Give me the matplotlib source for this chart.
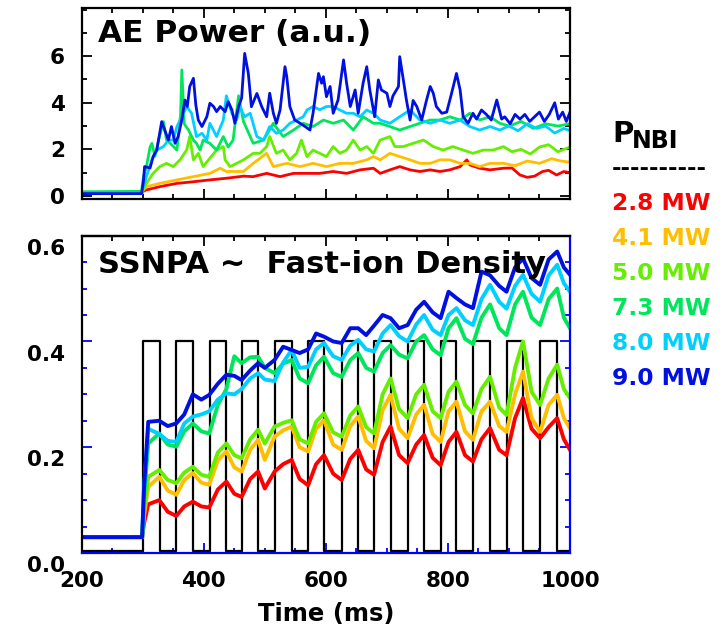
import numpy as np
import matplotlib
matplotlib.use('Agg')
import matplotlib.pyplot as plt
import matplotlib.transforms as mtransforms
from matplotlib.ticker import MultipleLocator

plt.rcParams['font.family'] = 'DejaVu Sans'
plt.rcParams['font.weight'] = 'bold'

power_labels = ['2.8 MW', '4.1 MW', '5.0 MW', '7.3 MW', '8.0 MW', '9.0 MW']
colors = ['#ff0000', '#ffbf00', '#66ee00', '#00e65c', '#00d0ff', '#0010e0']

# AE power (a.u.)
ae_red_t = [200, 298, 301, 306, 328, 356, 383, 410, 437, 465, 481, 503, 525, 547, 569, 590, 612, 634,
            656, 678, 689, 705, 721, 738, 754, 771, 787, 803, 820, 831, 836, 852, 869, 891, 905, 918,
            930, 942, 955, 965, 978, 990, 1000]
ae_red = [0.1, 0.1, 0.2, 0.26, 0.4, 0.54, 0.61, 0.69, 0.76, 0.85, 0.83, 0.97, 0.83, 0.97, 0.97, 0.97,
          1.05, 0.97, 1.12, 1.19, 0.97, 1.12, 1.26, 1.12, 1.05, 1.12, 1.05, 1.12, 1.26, 1.55, 1.33, 1.19,
          1.12, 1.19, 1.2, 0.9, 0.8, 0.85, 1.05, 1.1, 0.9, 1.05, 1.0]

ae_orange_t = [200, 298, 301, 306, 328, 356, 383, 410, 427, 437, 465, 481, 503, 514, 536, 558, 579, 601,
               623, 645, 667, 678, 689, 705, 721, 738, 754, 771, 787, 803, 820, 836, 852, 869, 891, 910,
               930, 950, 970, 985, 1000]
ae_orange = [0.12, 0.12, 0.25, 0.4, 0.54, 0.69, 0.83, 0.97, 1.19, 1.05, 1.05, 1.4, 1.83, 1.26, 1.4, 1.26,
             1.4, 1.26, 1.4, 1.4, 1.55, 1.69, 1.55, 1.83, 1.69, 1.55, 1.4, 1.4, 1.55, 1.55, 1.4, 1.4, 1.26,
             1.4, 1.4, 1.3, 1.5, 1.4, 1.6, 1.5, 1.45]

ae_lime_t = [200, 298, 301, 306, 317, 328, 339, 350, 361, 372, 377, 383, 391, 399, 410, 421, 432, 435,
             443, 454, 465, 481, 492, 503, 508, 519, 530, 541, 552, 560, 569, 579, 590, 601, 612, 623,
             634, 645, 656, 667, 678, 689, 705, 713, 727, 743, 760, 776, 792, 808, 825, 841, 858, 874,
             891, 905, 920, 935, 950, 965, 980, 1000]
ae_lime = [0.15, 0.15, 0.3, 0.54, 0.97, 1.26, 1.4, 1.26, 1.55, 1.97, 2.55, 1.55, 1.83, 1.26, 1.62, 1.97,
           2.12, 1.55, 1.26, 1.4, 1.55, 1.83, 1.83, 2.12, 2.55, 1.83, 1.97, 1.55, 1.83, 2.4, 1.69, 1.97,
           1.83, 1.69, 2.12, 1.83, 1.97, 2.4, 1.97, 2.12, 1.83, 2.4, 2.55, 2.12, 2.12, 2.26, 2.4, 2.12,
           1.97, 2.12, 1.97, 1.83, 1.97, 1.97, 2.12, 1.9, 2.0, 1.8, 2.1, 2.2, 1.9, 2.1]

ae_green_t = [200, 298, 301, 306, 312, 315, 320, 326, 334, 339, 345, 356, 362, 364, 368, 375, 383, 388,
              394, 399, 410, 421, 432, 440, 448, 457, 465, 481, 498, 514, 530, 547, 563, 579, 596, 612,
              629, 645, 661, 678, 689, 705, 721, 738, 754, 771, 787, 803, 820, 836, 852, 869, 885, 900,
              920, 940, 960, 980, 1000]
ae_green = [0.18, 0.2, 0.8, 1.26, 2.1, 2.26, 1.7, 2.4, 3.19, 2.4, 2.26, 1.97, 3.5, 5.41, 3.1, 2.83, 2.4,
            2.26, 1.97, 2.4, 2.26, 1.97, 2.55, 2.1, 2.4, 4.3, 3.2, 2.26, 2.4, 3.12, 2.55, 2.83, 3.12, 2.98,
            3.26, 3.12, 3.26, 2.83, 3.4, 3.12, 3.12, 2.98, 2.83, 2.98, 3.12, 3.26, 3.26, 3.4, 3.26, 3.55,
            3.26, 3.4, 3.12, 3.0, 3.2, 2.9, 3.1, 3.0, 3.1]

ae_cyan_t = [200, 298, 301, 306, 315, 323, 334, 342, 350, 356, 364, 372, 380, 388, 397, 405, 410, 421,
             432, 437, 446, 454, 459, 467, 476, 487, 498, 508, 519, 530, 541, 552, 563, 569, 579, 590,
             601, 612, 623, 634, 645, 656, 667, 678, 689, 705, 721, 738, 754, 771, 787, 803, 820, 836,
             852, 869, 885, 900, 915, 930, 945, 960, 975, 990, 1000]
ae_cyan = [0.1, 0.1, 0.4, 0.83, 1.55, 1.97, 2.12, 2.4, 2.4, 2.98, 3.4, 3.84, 3.55, 2.55, 2.69, 2.4, 3.12,
           2.55, 3.26, 4.3, 3.55, 3.26, 3.84, 3.4, 3.55, 2.55, 2.4, 2.98, 2.69, 2.83, 3.12, 3.26, 3.4,
           3.69, 3.84, 3.7, 3.84, 3.84, 3.69, 3.55, 3.55, 3.4, 3.69, 3.55, 3.26, 3.12, 3.4, 3.69, 3.26,
           3.12, 3.26, 3.12, 3.26, 2.98, 2.83, 2.98, 2.83, 3.0, 2.8, 3.1, 2.9, 3.0, 2.7, 2.9, 2.8]

ae_blue_t = [200, 298, 301, 303, 312, 317, 323, 331, 336, 342, 347, 353, 358, 364, 369, 373, 377, 383,
             387, 391, 397, 405, 410, 416, 421, 427, 435, 440, 446, 451, 457, 462, 467, 473, 478, 487,
             495, 503, 508, 514, 519, 525, 533, 536, 541, 549, 558, 566, 574, 579, 588, 593, 596, 601,
             607, 612, 620, 629, 634, 640, 648, 653, 661, 667, 672, 680, 686, 691, 700, 705, 710, 719,
             721, 727, 732, 738, 743, 749, 757, 765, 771, 776, 781, 790, 798, 806, 814, 820, 825, 833,
             841, 847, 855, 863, 871, 880, 888, 893, 902, 910, 918, 926, 934, 942, 950, 958, 966, 975,
             981, 988, 994, 1000]
ae_blue = [0.1, 0.1, 0.6, 1.26, 1.2, 1.69, 1.97, 3.19, 2.83, 2.4, 2.98, 2.26, 2.55, 3.26, 4.12, 3.84,
           4.7, 5.05, 3.9, 3.26, 2.98, 3.4, 3.98, 3.84, 3.62, 3.84, 3.62, 4.05, 3.7, 3.12, 3.84, 4.2,
           6.12, 5.26, 3.83, 4.4, 3.83, 3.4, 4.41, 3.55, 3.12, 3.69, 5.55, 5.12, 3.84, 3.26, 3.12, 2.98,
           2.83, 3.55, 5.26, 4.84, 5.12, 4.26, 4.7, 3.55, 4.12, 5.84, 4.84, 3.84, 4.55, 3.55, 4.84, 5.55,
           4.55, 3.4, 4.98, 4.55, 4.41, 3.84, 4.3, 4.7, 5.98, 4.98, 4.12, 3.26, 4.1, 3.84, 3.26, 4.12,
           4.7, 4.41, 3.84, 3.55, 3.6, 4.41, 5.26, 4.55, 3.4, 3.12, 3.55, 3.3, 3.69, 3.5, 3.26, 4.12,
           3.3, 3.4, 3.1, 3.5, 3.3, 3.5, 3.2, 3.4, 3.6, 3.2, 3.5, 4.0, 3.3, 3.6, 3.2, 3.6]

# SSNPA signal
npa_t = [200, 299, 302, 309, 327, 341, 355, 368, 382, 396, 409, 423, 437, 450, 462, 476, 489, 500, 516,
         530, 544, 557, 571, 584, 597, 612, 626, 640, 653, 666, 679, 693, 706, 720, 734, 748, 761, 775,
         788, 801, 814, 828, 841, 855, 869, 884, 896, 910, 923, 937, 951, 965, 979, 990, 1000]
npa_red = [0.030, 0.030, 0.055, 0.092, 0.100, 0.078, 0.070, 0.088, 0.097, 0.088, 0.086, 0.120, 0.135,
           0.112, 0.106, 0.140, 0.154, 0.122, 0.154, 0.168, 0.176, 0.140, 0.128, 0.168, 0.185, 0.150,
           0.138, 0.178, 0.195, 0.158, 0.148, 0.210, 0.239, 0.185, 0.170, 0.205, 0.223, 0.180, 0.166,
           0.210, 0.229, 0.185, 0.173, 0.215, 0.236, 0.195, 0.185, 0.255, 0.293, 0.235, 0.217, 0.238,
           0.255, 0.215, 0.195]
npa_orange = [0.030, 0.030, 0.070, 0.125, 0.144, 0.118, 0.110, 0.138, 0.151, 0.133, 0.129, 0.175, 0.192,
              0.162, 0.154, 0.195, 0.214, 0.176, 0.220, 0.232, 0.239, 0.200, 0.192, 0.235, 0.251, 0.205,
              0.195, 0.240, 0.258, 0.212, 0.198, 0.270, 0.299, 0.235, 0.217, 0.262, 0.280, 0.225, 0.210,
              0.268, 0.286, 0.230, 0.214, 0.268, 0.286, 0.240, 0.229, 0.300, 0.343, 0.255, 0.229, 0.280,
              0.299, 0.255, 0.236]
npa_lime = [0.030, 0.030, 0.080, 0.144, 0.157, 0.138, 0.132, 0.152, 0.163, 0.148, 0.144, 0.190, 0.207,
            0.185, 0.179, 0.215, 0.233, 0.207, 0.239, 0.246, 0.251, 0.215, 0.207, 0.248, 0.264, 0.228,
            0.220, 0.260, 0.277, 0.238, 0.226, 0.300, 0.330, 0.272, 0.255, 0.300, 0.318, 0.268, 0.255,
            0.305, 0.324, 0.280, 0.264, 0.310, 0.333, 0.275, 0.261, 0.350, 0.400, 0.305, 0.280, 0.330,
            0.356, 0.310, 0.293]
npa_green = [0.030, 0.030, 0.100, 0.207, 0.226, 0.205, 0.201, 0.230, 0.245, 0.230, 0.226, 0.280, 0.310,
             0.372, 0.359, 0.370, 0.371, 0.350, 0.340, 0.358, 0.365, 0.330, 0.321, 0.355, 0.371, 0.340,
             0.333, 0.365, 0.378, 0.350, 0.343, 0.378, 0.393, 0.375, 0.368, 0.400, 0.412, 0.385, 0.374,
             0.425, 0.444, 0.405, 0.395, 0.445, 0.470, 0.425, 0.412, 0.470, 0.494, 0.445, 0.431, 0.480,
             0.500, 0.445, 0.425]
npa_cyan = [0.030, 0.030, 0.120, 0.235, 0.225, 0.212, 0.210, 0.245, 0.258, 0.262, 0.268, 0.290, 0.302,
            0.300, 0.310, 0.330, 0.340, 0.328, 0.325, 0.360, 0.384, 0.350, 0.352, 0.385, 0.397, 0.372,
            0.365, 0.392, 0.403, 0.385, 0.381, 0.415, 0.431, 0.410, 0.400, 0.432, 0.450, 0.422, 0.412,
            0.450, 0.463, 0.440, 0.431, 0.480, 0.507, 0.475, 0.462, 0.505, 0.526, 0.490, 0.475, 0.525,
            0.545, 0.510, 0.494]
npa_blue = [0.030, 0.030, 0.120, 0.248, 0.250, 0.240, 0.245, 0.262, 0.300, 0.290, 0.299, 0.320, 0.337,
            0.335, 0.327, 0.345, 0.359, 0.350, 0.365, 0.390, 0.384, 0.378, 0.385, 0.415, 0.409, 0.400,
            0.397, 0.425, 0.425, 0.412, 0.430, 0.450, 0.444, 0.425, 0.431, 0.460, 0.475, 0.455, 0.444,
            0.494, 0.482, 0.470, 0.463, 0.532, 0.525, 0.505, 0.494, 0.540, 0.557, 0.520, 0.507, 0.555,
            0.570, 0.540, 0.526]

# NBI modulation (square wave), on/off times in ms
pulse_on = [300, 355, 409.5, 462, 516.6, 571, 626, 679, 734, 788.5, 841.5, 896, 951]
pulse_off = [327.6, 382, 437, 489, 544, 597.5, 653, 706.6, 761, 814, 869, 923.4, 979]
pulse_high = 0.4
pulse_low = 0.004

ae_sets = [(ae_red_t, ae_red), (ae_orange_t, ae_orange), (ae_lime_t, ae_lime),
           (ae_green_t, ae_green), (ae_cyan_t, ae_cyan), (ae_blue_t, ae_blue)]
npa_sets = [npa_red, npa_orange, npa_lime, npa_green, npa_cyan, npa_blue]

fig = plt.figure(figsize=(7.25, 6.39), dpi=100)
ax1 = fig.add_axes([0.1127, 0.6886, 0.6735, 0.2989])
ax2 = fig.add_axes([0.1127, 0.1346, 0.6735, 0.4966])

tick_fs = 15.5

# --- top: AE power
for (t, v), c in zip(ae_sets, colors):
    ax1.plot(t, v, color=c, lw=2.0)
ax1.set_xlim(200, 1000)
ax1.set_ylim(-0.13, 8.07)
ax1.set_yticks([0, 2, 4, 6])
ax1.yaxis.set_minor_locator(MultipleLocator(1))
ax1.xaxis.set_major_locator(MultipleLocator(200))
ax1.xaxis.set_minor_locator(MultipleLocator(50))
ax1.tick_params(which='both', direction='in', top=True, right=True, labelbottom=False,
                labelsize=tick_fs, pad=12, width=1.3)
ax1.tick_params(which='major', length=7)
ax1.tick_params(which='minor', length=3.5)
for sp in ax1.spines.values():
    sp.set_linewidth(1.6)
ax1.text(0.033, 0.865, 'AE Power (a.u.)', transform=ax1.transAxes, fontsize=22.5,
         fontweight='bold', va='center', ha='left')

# --- bottom: SSNPA
wave_t = [200]
wave_v = [pulse_low]
for on, off in zip(pulse_on, pulse_off):
    wave_t += [on, on, off, off]
    wave_v += [pulse_low, pulse_high, pulse_high, pulse_low]
wave_t.append(1000)
wave_v.append(pulse_low)
ax2.plot(wave_t, wave_v, color='black', lw=1.6)

for v, c in zip(npa_sets, colors):
    ax2.plot(npa_t, v, color=c, lw=2.8)

ax2.set_xlim(200, 1000)
ax2.set_ylim(0, 0.6)
ax2.set_xticks([200, 400, 600, 800, 1000])
ax2.xaxis.set_minor_locator(MultipleLocator(50))
ax2.set_yticks([0, 0.2, 0.4, 0.6])
ax2.set_yticklabels(['0.0', '0.2', '0.4', '0.6'])
ax2.yaxis.set_minor_locator(MultipleLocator(0.05))
ax2.tick_params(which='both', direction='in', right=True, top=False, color='blue',
                labelsize=tick_fs, width=1.3)
ax2.tick_params(axis='y', pad=12)
ax2.tick_params(axis='x', pad=13)
ax2.tick_params(which='major', length=7)
ax2.tick_params(which='minor', length=3.5)
for side in ['right', 'bottom']:
    ax2.spines[side].set_color('blue')
for sp in ax2.spines.values():
    sp.set_linewidth(1.6)

# y labels sit a little below their ticks in the original
shift = mtransforms.ScaledTranslation(0, -8 / 72, fig.dpi_scale_trans)
for lab in ax2.get_yticklabels():
    lab.set_transform(lab.get_transform() + shift)

sec = ax2.secondary_xaxis('top')
sec.set_xticks([200, 400, 600, 800, 1000])
sec.xaxis.set_minor_locator(MultipleLocator(50))
sec.tick_params(which='both', direction='in', labeltop=False, color='black', width=1.3)
sec.tick_params(which='major', length=7)
sec.tick_params(which='minor', length=3.5)
sec.spines['top'].set_linewidth(1.6)

ax2.set_xlabel('Time (ms)', fontsize=17.5, fontweight='bold', labelpad=8)
ax2.text(0.033, 0.91, 'SSNPA ~  Fast-ion Density', transform=ax2.transAxes, fontsize=22,
         fontweight='bold', va='center', ha='left')

# --- legend text on the right
fig.text(0.844, 1 - 134 / 639, 'P', fontsize=21, fontweight='bold', va='center', ha='left')
fig.text(0.872, 1 - 141 / 639, 'NBI', fontsize=17, fontweight='bold', va='center', ha='left')
fig.text(0.844, 1 - 169 / 639, '----------', fontsize=16.5, fontweight='bold', va='center', ha='left')
for i, (lab, c) in enumerate(zip(power_labels, colors)):
    fig.text(0.844, 1 - (203.3 + 35.1 * i) / 639, lab, color=c, fontsize=16.8,
             fontweight='bold', va='center', ha='left')

fig.savefig('out.png', dpi=100)
